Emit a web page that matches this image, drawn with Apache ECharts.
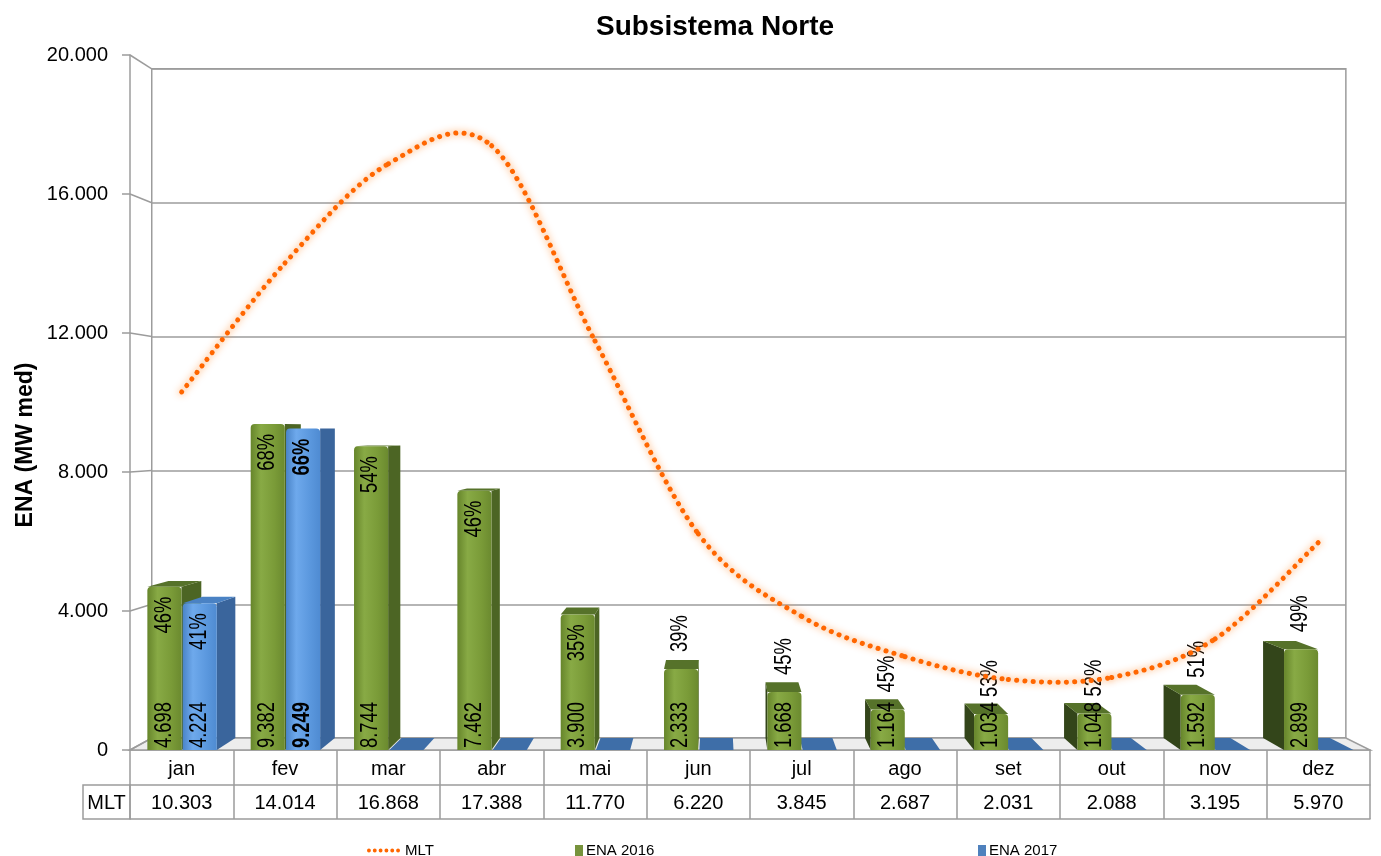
<!DOCTYPE html>
<html>
<head>
<meta charset="utf-8">
<title>Subsistema Norte</title>
<script src="https://cdn.jsdelivr.net/npm/echarts@6/dist/echarts.min.js"></script>
<style>
  html, body { margin: 0; padding: 0; background: #fff; }
  #chart { width: 1381px; height: 856px; }
</style>
</head>
<body>
<div id="chart"></div>
<script>
// Energia Natural Afluente — Subsistema Norte (MW médios)
const meses = ['jan', 'fev', 'mar', 'abr', 'mai', 'jun', 'jul', 'ago', 'set', 'out', 'nov', 'dez'];
const mlt = [10303, 14014, 16868, 17388, 11770, 6220, 3845, 2687, 2031, 2088, 3195, 5970];
const ena2016 = [4698, 9382, 8744, 7462, 3900, 2333, 1668, 1164, 1034, 1048, 1592, 2899];
const ena2017 = [4224, 9249, 0, 0, 0, 0, 0, 0, 0, 0, 0, 0];
const pct2016 = [46, 68, 54, 46, 35, 39, 45, 45, 53, 52, 51, 49];
const pct2017 = [41, 66, null, null, null, null, null, null, null, null, null, null];
const yTicks = [0, 4000, 8000, 12000, 16000, 20000];

const FONT = "'Liberation Sans', Arial, sans-serif";

// front plane of the 3D box
const G_LEFT = 130, G_TOP = 55, G_W = 1240, G_H = 695;
// perspective: back plane is the front pulled toward a vanishing point
const VP_X = G_LEFT + 0.474 * G_W, VP_Y = G_TOP + 0.538 * G_H, DEPTH = 0.037;
function back(x, y) { return [x + (VP_X - x) * DEPTH, y + (VP_Y - y) * DEPTH]; }
const BACK_TL = back(G_LEFT, G_TOP), BACK_BR = back(G_LEFT + G_W, G_TOP + G_H);

// table rows below the floor
const ROW_H = 35, ROW2_H = 34, MLT_COL_W = 47;

function fmt(n) { return String(n).replace(/\B(?=(\d{3})+(?!\d))/g, '.'); }

// last month of 2017 with data is shown in bold
let ultimo2017 = -1;
ena2017.forEach((v, i) => { if (v > 0) ultimo2017 = i; });

const GRID_LINE = '#9c9c9c';
const MLT_COLOR = '#ff6600';

const palette = {
  '2016': {
    front: ['#66852b', '#88aa45', '#7a9b38', '#6b8a2f'],
    sideR: '#4c6524', sideL: '#33451a', top: '#56722a', flat: '#56722a'
  },
  '2017': {
    front: ['#4a84c8', '#6ea9ec', '#5b98de', '#4f8bd2'],
    sideR: '#3a659c', sideL: '#2f578a', top: '#4a82c4', flat: '#3e6ea8'
  }
};

function barRenderer(key, offsetFrac, widthFrac) {
  const pal = palette[key];
  return function (params, api) {
    const idx = api.value(0);
    const val = api.value(1);
    const pct = api.value(2);
    const band = api.size([1, 0])[0];
    const c = api.coord([idx, 0]);
    const t = api.coord([idx, val]);
    const cx = c[0] + offsetFrac * band;
    const bw = widthFrac * band;
    const x0 = cx - bw / 2, x1 = cx + bw / 2;
    const yB = c[1], yT = t[1];
    const children = [];
    const bold = key === '2017' && idx === ultimo2017;

    if (val === 0) {
      const p0 = back(x0, yB), p1 = back(x1, yB);
      children.push({ type: 'polygon', z2: 1,
        shape: { points: [[x0, yB], [x1, yB], p1, p0] },
        style: { fill: pal.flat } });
      return { type: 'group', children };
    }

    if (x1 < VP_X) {
      children.push({ type: 'polygon', z2: 1,
        shape: { points: [[x1, yT], back(x1, yT), back(x1, yB), [x1, yB]] },
        style: { fill: pal.sideR } });
    }
    if (x0 > VP_X) {
      children.push({ type: 'polygon', z2: 1,
        shape: { points: [[x0, yT], back(x0, yT), back(x0, yB), [x0, yB]] },
        style: { fill: pal.sideL } });
    }
    if (yT > VP_Y) {
      children.push({ type: 'polygon', z2: 2,
        shape: { points: [[x0, yT], [x1, yT], back(x1, yT), back(x0, yT)] },
        style: { fill: pal.top } });
    }
    children.push({ type: 'rect', z2: 10,
      shape: { x: x0, y: yT, width: bw, height: yB - yT, r: [4, 4, 0, 0] },
      style: { fill: new echarts.graphic.LinearGradient(0, 0, 1, 0, [
        { offset: 0, color: pal.front[0] },
        { offset: 0.3, color: pal.front[1] },
        { offset: 0.7, color: pal.front[2] },
        { offset: 1, color: pal.front[3] }
      ]) } });

    const fw = bold ? 'bold' : 'normal';
    children.push({ type: 'text', z2: 20, x: cx, y: yB - 2, rotation: Math.PI / 2, scaleX: 0.8,
      style: { text: fmt(val), fontFamily: FONT, fontSize: 23, fontWeight: fw,
        fill: '#000', align: 'left', verticalAlign: 'middle' } });
    if (pct != null && !isNaN(pct)) {
      const inside = (yB - yT) > 110;
      children.push({ type: 'text', z2: 20, x: cx, y: inside ? yT + 10 : yT - 17,
        rotation: Math.PI / 2, scaleX: 0.8,
        style: { text: pct + '%', fontFamily: FONT, fontSize: 23, fontWeight: fw,
          fill: '#000', align: inside ? 'right' : 'left', verticalAlign: 'middle' } });
    }
    return { type: 'group', children };
  };
}

// MLT curve: one Bezier segment per month, control points from the neighbouring months
function mltRenderer(params, api) {
  const n = mlt.length;
  const i = params.dataIndexInside;
  if (i >= n - 1) return { type: 'group', children: [] };
  const pt = k => {
    const j = Math.max(0, Math.min(n - 1, k));
    return api.coord([api.value(0, j), api.value(1, j)]);
  };
  const p0 = pt(i - 1), p1 = pt(i), p2 = pt(i + 1), p3 = pt(i + 2);
  return {
    type: 'bezierCurve', z2: 30,
    shape: {
      x1: p1[0], y1: p1[1], x2: p2[0], y2: p2[1],
      cpx1: p1[0] + (p2[0] - p0[0]) / 6, cpy1: p1[1] + (p2[1] - p0[1]) / 6,
      cpx2: p2[0] - (p3[0] - p1[0]) / 6, cpy2: p2[1] - (p3[1] - p1[1]) / 6
    },
    style: {
      fill: 'none', stroke: MLT_COLOR, lineWidth: 5, lineDash: [0.1, 8.2], lineCap: 'round',
      shadowColor: 'rgba(255,140,50,0.9)', shadowBlur: 7
    }
  };
}

// side wall edges and floor of the box
function wallRenderer(params, api) {
  const v = api.value(1);
  const cs = params.coordSys;
  const y = api.coord([0, v])[1];
  const left = cs.x, right = cs.x + cs.width;
  const children = [{ type: 'line', z2: 0,
    shape: { x1: left, y1: y, x2: back(left, y)[0], y2: back(left, y)[1] },
    style: { stroke: GRID_LINE, lineWidth: 1.5 } }];
  if (v === 0) {
    children.push({ type: 'polygon', z2: -1,
      shape: { points: [[left, y], [right, y], back(right, y), back(left, y)] },
      style: { fill: '#ededed', stroke: GRID_LINE, lineWidth: 1.5 } });
  }
  return { type: 'group', children };
}

// legend symbol for MLT: a row of six dots
let dotsIcon = 'path://';
for (let k = 0; k < 6; k++) {
  const cx = 2 + 6 * k;
  dotsIcon += 'M' + cx + ',0A2,2 0 1,1 ' + cx + ',4A2,2 0 1,1 ' + cx + ',0Z';
}

const chart = echarts.init(document.getElementById('chart'), null, { renderer: 'canvas' });

const option = {
  animation: false,
  backgroundColor: '#fff',
  title: {
    text: 'Subsistema Norte',
    left: 710, top: 8, textAlign: 'center',
    textStyle: { fontFamily: FONT, fontSize: 28, fontWeight: 'bold', color: '#000' }
  },
  legend: [
    { data: [{ name: 'MLT', icon: dotsIcon }], left: 362, top: 838, itemWidth: 33, itemHeight: 5,
      textStyle: { fontFamily: FONT, fontSize: 15, color: '#000' } },
    { data: [{ name: 'ENA 2016', icon: 'rect' }], left: 570, top: 838, itemWidth: 8, itemHeight: 11, itemGap: 0,
      textStyle: { fontFamily: FONT, fontSize: 15, color: '#000', padding: [0, 0, 0, -2] } },
    { data: [{ name: 'ENA 2017', icon: 'rect' }], left: 973, top: 838, itemWidth: 8, itemHeight: 11,
      textStyle: { fontFamily: FONT, fontSize: 15, color: '#000', padding: [0, 0, 0, -2] } }
  ],
  grid: [
    { left: G_LEFT, top: G_TOP, width: G_W, height: G_H, containLabel: false },
    { left: BACK_TL[0], top: BACK_TL[1], width: BACK_BR[0] - BACK_TL[0], height: BACK_BR[1] - BACK_TL[1],
      show: true, borderColor: GRID_LINE, borderWidth: 1.5, backgroundColor: 'transparent' }
  ],
  xAxis: [
    { type: 'category', gridIndex: 0, data: meses, position: 'bottom',
      axisLine: { lineStyle: { color: GRID_LINE, width: 1.5 } },
      axisTick: { show: true, interval: 0, length: ROW_H + ROW2_H, lineStyle: { color: GRID_LINE, width: 1.5 } },
      axisLabel: { interval: 0, margin: 9, fontFamily: FONT, fontSize: 20, color: '#000' } },
    { type: 'category', gridIndex: 0, data: mlt.map(fmt), position: 'bottom', offset: ROW_H,
      axisLine: { lineStyle: { color: GRID_LINE, width: 1.5 } },
      axisTick: { show: false },
      axisLabel: { interval: 0, margin: 8, fontFamily: FONT, fontSize: 20, color: '#000' } },
    { type: 'category', gridIndex: 0, data: meses, position: 'bottom', offset: ROW_H + ROW2_H,
      axisLine: { lineStyle: { color: GRID_LINE, width: 1.5 } },
      axisTick: { show: false }, axisLabel: { show: false } },
    { type: 'category', gridIndex: 1, data: meses, show: false }
  ],
  yAxis: [
    { type: 'value', gridIndex: 0, min: 0, max: 20000, interval: 4000,
      axisLine: { show: true, lineStyle: { color: GRID_LINE, width: 1.5 } },
      axisTick: { show: true, length: 8, lineStyle: { color: GRID_LINE, width: 1.5 } },
      splitLine: { show: false },
      axisLabel: { margin: 22, fontFamily: FONT, fontSize: 20, color: '#000', formatter: v => fmt(v) } },
    { type: 'value', gridIndex: 1, min: 0, max: 20000, interval: 4000,
      axisLine: { show: false }, axisTick: { show: false }, axisLabel: { show: false },
      splitLine: { show: true, lineStyle: { color: GRID_LINE, width: 1.5 } } }
  ],
  graphic: [
    { type: 'text', x: 26, y: 445, rotation: Math.PI / 2,
      style: { text: 'ENA (MW med)', fontFamily: FONT, fontSize: 23, fontWeight: 'bold',
        fill: '#000', align: 'center', verticalAlign: 'middle' } },
    { type: 'rect', shape: { x: G_LEFT - MLT_COL_W, y: G_TOP + G_H + ROW_H, width: MLT_COL_W, height: ROW2_H },
      style: { fill: 'none', stroke: GRID_LINE, lineWidth: 1.5 } },
    { type: 'text', x: G_LEFT - MLT_COL_W / 2, y: G_TOP + G_H + ROW_H + ROW2_H / 2 + 1,
      style: { text: 'MLT', fontFamily: FONT, fontSize: 20, fill: '#000', align: 'center', verticalAlign: 'middle' } }
  ],
  series: [
    { name: 'parede', type: 'custom', xAxisIndex: 0, yAxisIndex: 0, z: 1, silent: true,
      data: yTicks.map(v => [0, v]), encode: { x: 0, y: 1 }, renderItem: wallRenderer },
    { name: 'ENA 2016', type: 'custom', xAxisIndex: 0, yAxisIndex: 0, z: 2,
      itemStyle: { color: '#77933c' },
      data: ena2016.map((v, i) => [i, v, pct2016[i]]), encode: { x: 0, y: 1 },
      renderItem: barRenderer('2016', -0.167, 0.33) },
    { name: 'ENA 2017', type: 'custom', xAxisIndex: 0, yAxisIndex: 0, z: 2,
      itemStyle: { color: '#4f81bd' },
      data: ena2017.map((v, i) => [i, v, pct2017[i]]), encode: { x: 0, y: 1 },
      renderItem: barRenderer('2017', 0.175, 0.33) },
    { name: 'MLT', type: 'custom', xAxisIndex: 0, yAxisIndex: 0, z: 5,
      itemStyle: { color: MLT_COLOR },
      data: mlt.map((v, i) => [i, v]), encode: { x: 0, y: 1 },
      renderItem: mltRenderer }
  ]
};

chart.setOption(option);
</script>
</body>
</html>
